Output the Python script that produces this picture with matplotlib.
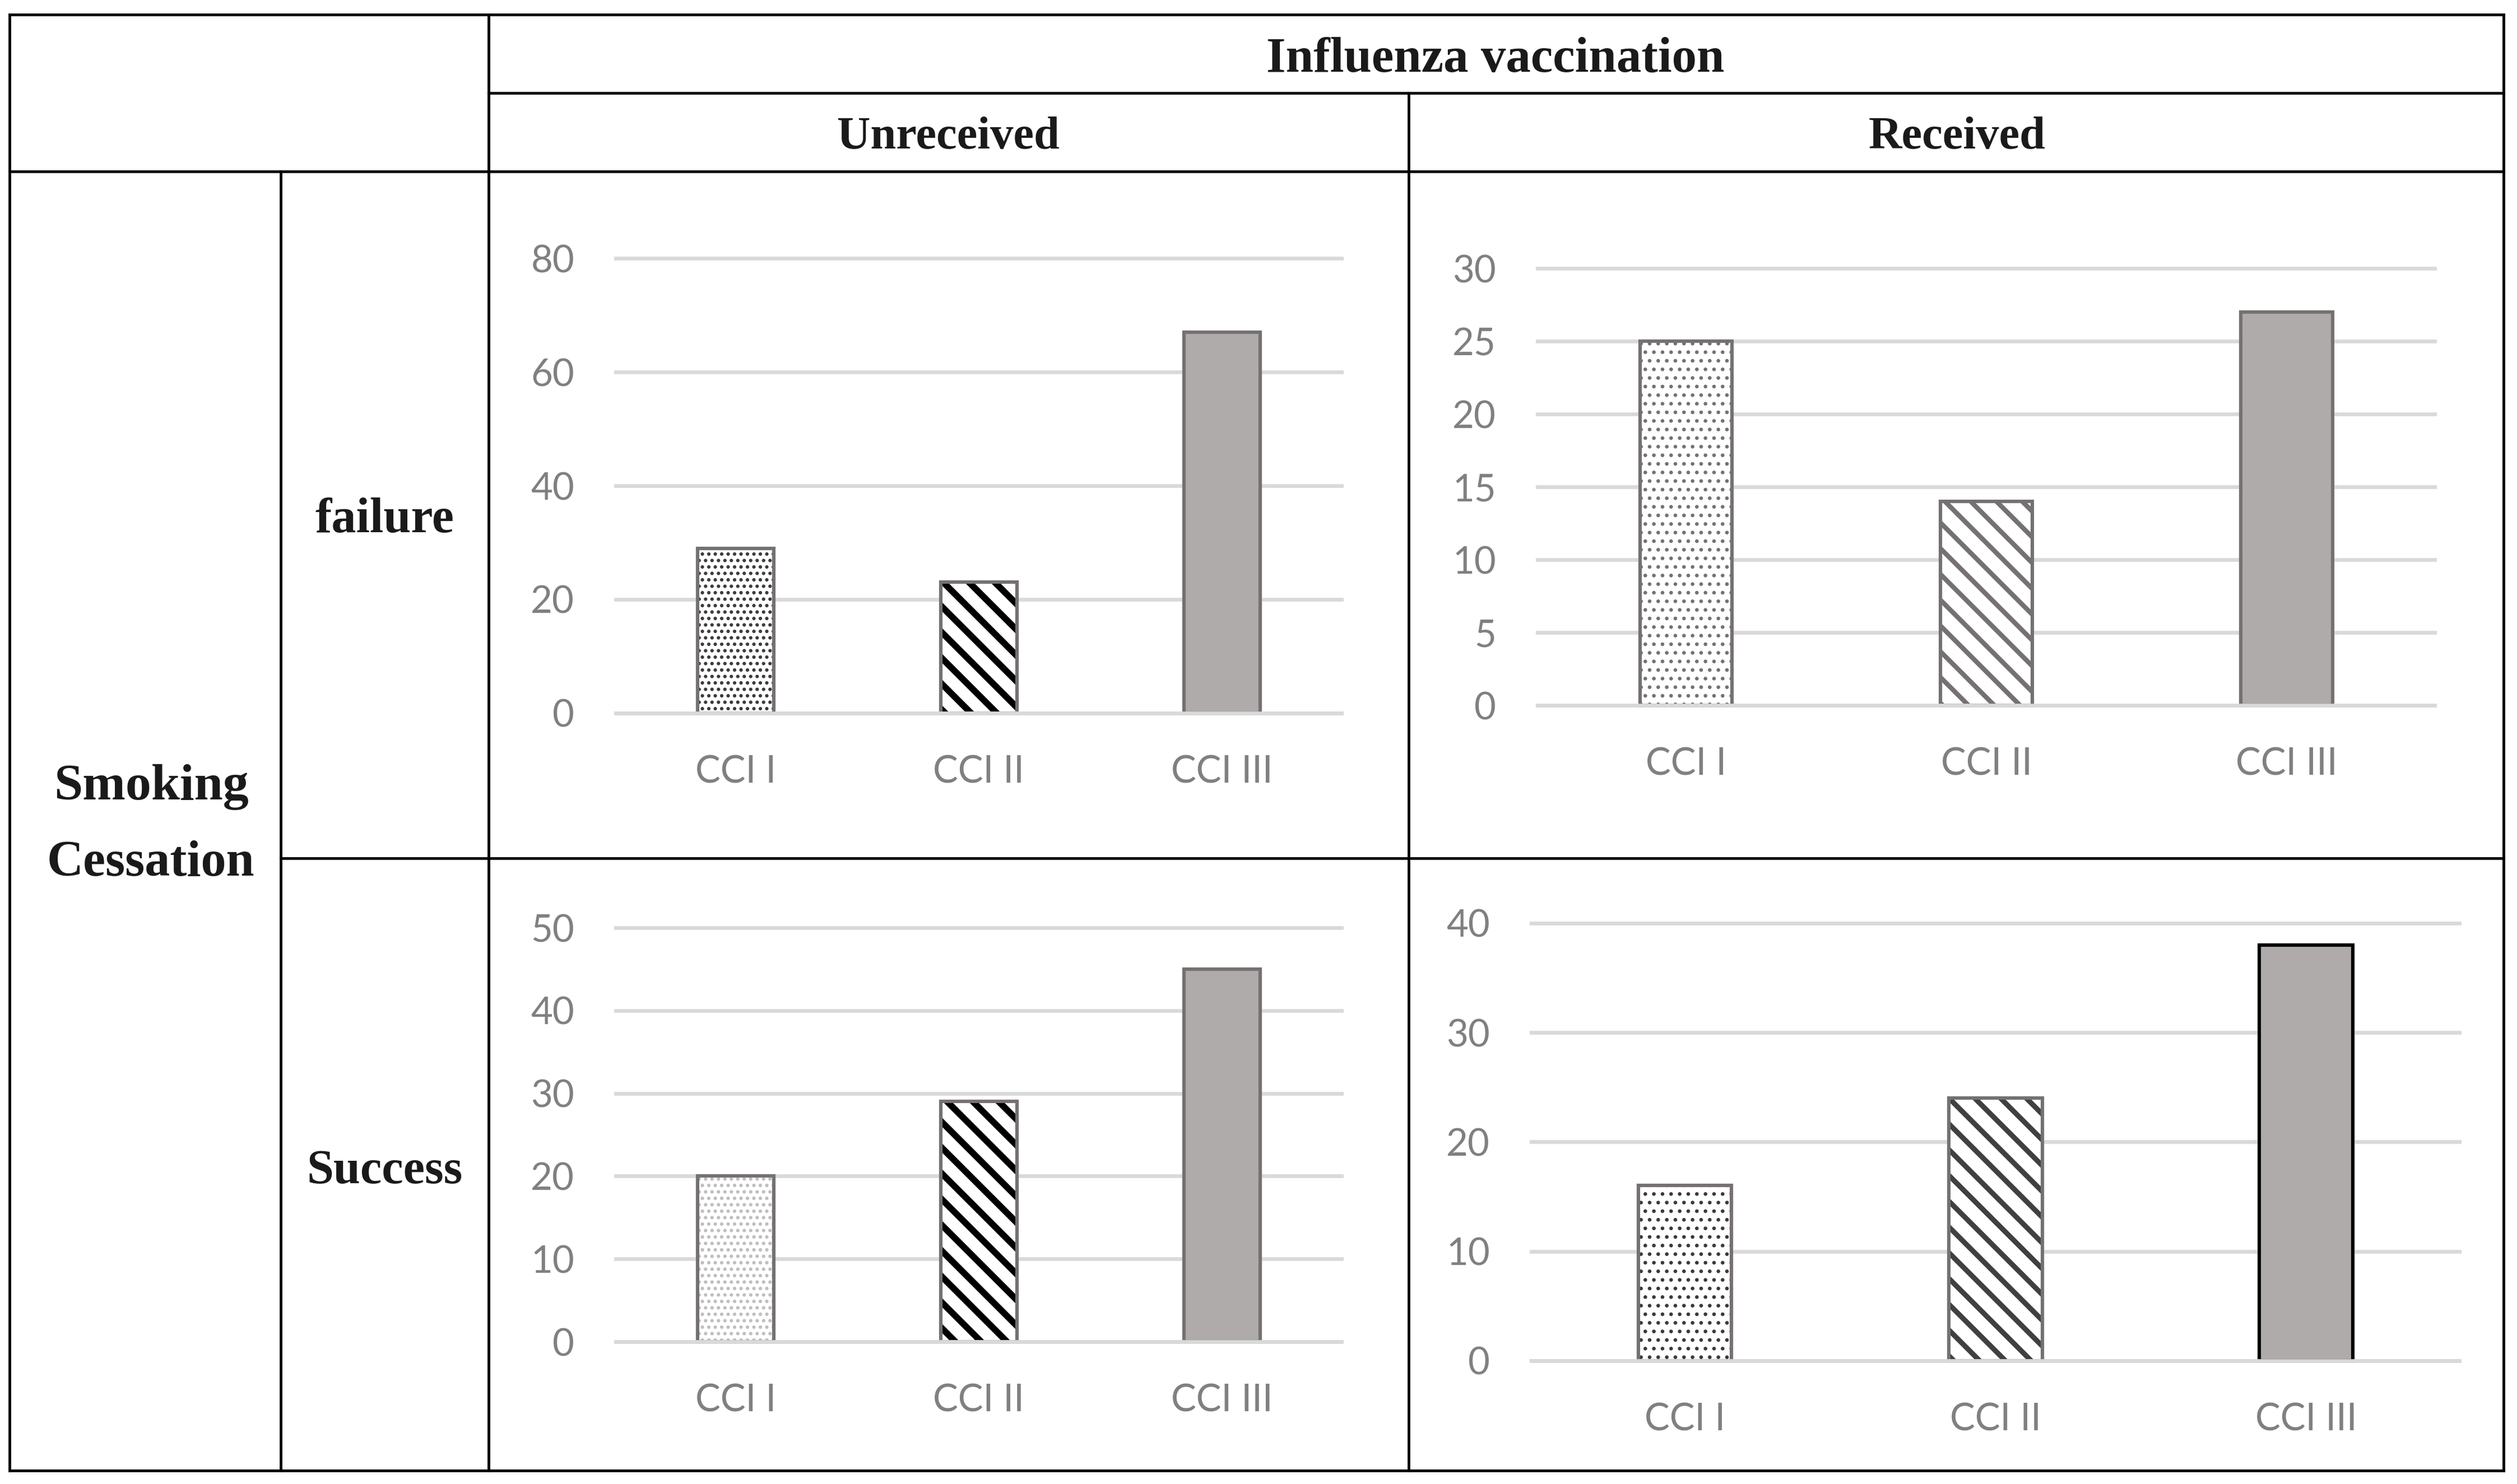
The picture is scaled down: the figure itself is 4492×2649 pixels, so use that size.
import matplotlib
matplotlib.use('Agg')
import matplotlib.pyplot as plt
from matplotlib.lines import Line2D

# ---------------- data ----------------
categories = ['CCI I', 'CCI II', 'CCI III']
fail_unreceived = [29, 23, 67]
fail_received = [25, 14, 27]
success_unreceived = [20, 29, 45]
success_received = [16, 24, 38]

col_header = 'Influenza vaccination'
col_labels = ['Unreceived', 'Received']
row_header = 'Smoking\nCessation'
row_labels = ['failure', 'Success']

# ---------------- figure ----------------
W, H = 4492, 2649
DPI = 276
fig = plt.figure(figsize=((W + 0.02) / DPI, (H + 0.02) / DPI), dpi=DPI)
fig.patch.set_facecolor('white')

def fx(x):
    return x / W

def fy(y):
    return 1 - y / H

TABLE_LW = 1.25
def hline(y, x0, x1):
    fig.add_artist(Line2D([fx(x0), fx(x1)], [fy(y), fy(y)], transform=fig.transFigure,
                          color='black', lw=TABLE_LW, solid_capstyle='projecting'))

def vline(x, y0, y1):
    fig.add_artist(Line2D([fx(x), fx(x)], [fy(y0), fy(y1)], transform=fig.transFigure,
                          color='black', lw=TABLE_LW, solid_capstyle='projecting'))

L, R, T, B = 16.6, 4468, 26.3, 2625
hline(T, L, R)
hline(B, L, R)
vline(L, T, B)
vline(R, T, B)
vline(871.5, T, B)
vline(500.6, 306, B)
vline(2514, 166, B)
hline(166, 871.5, R)
hline(306, L, R)
hline(1532, 500.6, R)

serif = ['Liberation Serif', 'DejaVu Serif']
tcol = '#1a1a1a'
HS = 22.5
fig.text(fx(2669), fy(127), col_header, ha='center', va='baseline', fontsize=23.2,
         fontweight='bold', family=serif, color=tcol)
fig.text(fx(1692), fy(265), col_labels[0], ha='center', va='baseline', fontsize=21.5,
         fontweight='bold', family=serif, color=tcol)
fig.text(fx(3493), fy(265), col_labels[1], ha='center', va='baseline', fontsize=21.5,
         fontweight='bold', family=serif, color=tcol)
fig.text(fx(686), fy(950), row_labels[0], ha='center', va='baseline', fontsize=23,
         fontweight='bold', family=serif, color=tcol)
fig.text(fx(687), fy(2112), row_labels[1], ha='center', va='baseline', fontsize=22.5,
         fontweight='bold', family=serif, color=tcol)
sm, ce = row_header.split('\n')
fig.text(fx(270), fy(1427), sm, ha='center', va='baseline', fontsize=24,
         fontweight='bold', family=serif, color=tcol)
fig.text(fx(269), fy(1563), ce, ha='center', va='baseline', fontsize=23.5,
         fontweight='bold', family=serif, color=tcol)

# ---------------- panels ----------------
GRID = '#d9d9d9'
EDGE = '#767171'
FILL3 = '#afabab'
TICKC = '#808080'
BS = '\\'  # one backslash

def bar_with_hatch(ax, x, h, width, hatch, hcolor, hlw, edge):
    with plt.rc_context({'hatch.linewidth': hlw, 'hatch.color': hcolor}):
        bars = ax.bar(x, h, width, color='white', edgecolor=hcolor, linewidth=0,
                      hatch=hatch, zorder=2)
    for b in bars:
        if hasattr(b, 'set_hatch_linewidth'):
            b.set_hatch_linewidth(hlw)
    ax.bar(x, h, width, fill=False, edgecolor=edge, linewidth=1.6, zorder=3,
           joinstyle='miter')

def panel(values, x0, x1, y0px, ytoppx, ymax, step, bw, styles, last_edge=EDGE):
    m = ymax * 0.012
    ppu = (y0px - ytoppx) / ymax
    bpx = y0px + m * ppu
    tpx = ytoppx - m * ppu
    ax = fig.add_axes([fx(x0), fy(bpx), (x1 - x0) / W, (bpx - tpx) / H])
    ax.set_xlim(-0.5, 2.5)
    ax.set_ylim(-m, ymax + m)
    ax.set_yticks(range(0, ymax + 1, step))
    ax.set_xticks(range(len(categories)))
    ax.set_xticklabels(categories)
    for s in ax.spines.values():
        s.set_visible(False)
    ax.set_facecolor('none')
    ax.yaxis.grid(True, color=GRID, lw=1.75, zorder=0)
    ax.set_axisbelow(True)
    ax.tick_params(axis='both', length=0, labelsize=17.5, labelcolor=TICKC)
    ax.tick_params(axis='y', pad=18.5)
    ax.tick_params(axis='x', pad=17)
    for lab in ax.get_xticklabels() + ax.get_yticklabels():
        lab.set_family(['Lato', 'DejaVu Sans'])
    (h1, c1, w1), (h2, c2, w2) = styles
    bar_with_hatch(ax, 0, values[0], bw, h1, c1, w1, EDGE)
    bar_with_hatch(ax, 1, values[1], bw, h2, c2, w2, EDGE)
    ax.bar(2, values[2], bw, color=FILL3, edgecolor=last_edge, linewidth=1.6, zorder=3,
           joinstyle='miter')
    ax.axhline(0, color=GRID, lw=1.75, zorder=4)
    return ax

panel(fail_unreceived, 1096, 2397.7, 1272.7, 461.5, 80, 20, 0.313,
      [('....', '#3a3a3a', 1.0), (BS * 2, '#000000', 3.0)])
panel(fail_received, 2741, 4349, 1259.3, 479.3, 30, 5, 0.306,
      [('...', '#767171', 0.9), (BS * 2, '#767171', 2.2)])
panel(success_unreceived, 1096, 2397.7, 2395, 1656, 50, 10, 0.313,
      [('....', '#bfbfbf', 1.0), (BS * 2, '#000000', 3.0)])
panel(success_received, 2730, 4392.7, 2428.9, 1647.7, 40, 10, 0.30,
      [('...', '#3a3a3a', 0.9), (BS * 2, '#404040', 2.4)], last_edge='#000000')

fig.savefig('out.png', dpi=DPI, facecolor='white')
